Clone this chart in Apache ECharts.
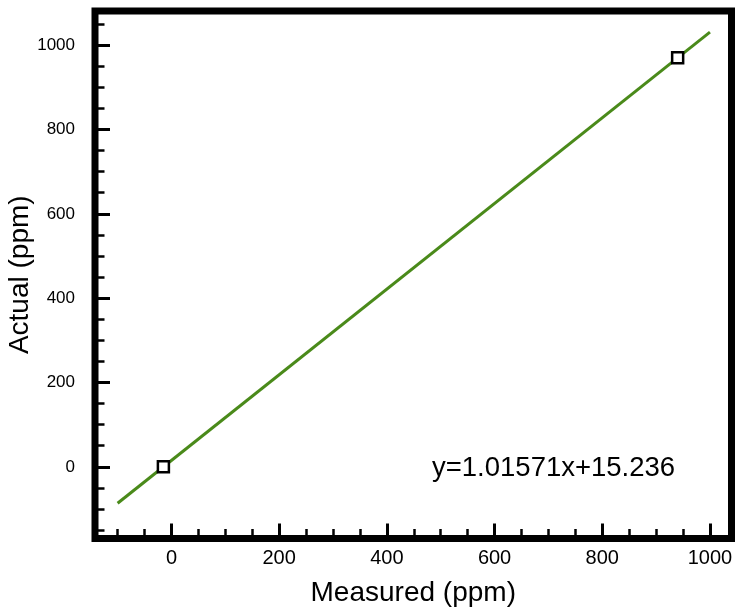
<!DOCTYPE html>
<html>
<head>
<meta charset="utf-8">
<script src="https://cdn.jsdelivr.net/npm/echarts@6/dist/echarts.min.js"></script>
<style>
html,body{margin:0;padding:0;background:#fff;}
#c{width:743px;height:616px;}
</style>
</head>
<body>
<div id="c"></div>
<script>
// Data
const measuredPoints = [-15, 940];
const actualPoints = [0, 970];
const fitLineX = [-100, 1000];
const fitLineY = [-86.3, 1030.9];
const xMajorTicks = [0, 200, 400, 600, 800, 1000];
const xMinorTicks = [-100, -50, 50, 100, 150, 250, 300, 350, 450, 500, 550, 650, 700, 750, 850, 900, 950];
const yMajorTicks = [0, 200, 400, 600, 800, 1000];
const yMinorTicks = [-150, -100, -50, 50, 100, 150, 250, 300, 350, 450, 500, 550, 650, 700, 750, 850, 900, 950, 1050];
const equationText = 'y=1.01571x+15.236';
const xName = 'Measured (ppm)';
const yName = 'Actual (ppm)';

const FONT = '"Liberation Sans", Arial, Helvetica, sans-serif';
const X_MIN = -142, X_MAX = 1040, Y_MIN = -170, Y_MAX = 1081;

const chart = echarts.init(document.getElementById('c'), null, {renderer: 'canvas'});

function xAxisDef(major) {
  return {
    type: 'value', min: X_MIN, max: X_MAX, position: 'bottom',
    name: major ? xName : '', nameLocation: 'middle', nameGap: 41,
    nameMoveOverlap: false,
    nameTextStyle: {fontFamily: FONT, fontSize: 28, color: '#000'},
    axisLine: {show: false, onZero: false},
    splitLine: {show: false},
    axisTick: {show: true, inside: true, length: major ? 15 : 9.5,
      customValues: major ? xMajorTicks : xMinorTicks,
      lineStyle: {color: '#000', width: major ? 3 : 2.5}},
    axisLabel: {show: major, customValues: xMajorTicks, margin: 10,
      formatter: v => String(v),
      fontFamily: FONT, fontSize: 20, color: '#000'}
  };
}
function yAxisDef(major) {
  return {
    type: 'value', min: Y_MIN, max: Y_MAX, position: 'left',
    name: major ? yName : '', nameLocation: 'middle', nameGap: 61,
    nameMoveOverlap: false,
    nameTextStyle: {fontFamily: FONT, fontSize: 28, color: '#000'},
    axisLine: {show: false, onZero: false},
    splitLine: {show: false},
    axisTick: {show: true, inside: true, length: major ? 15 : 9.5,
      customValues: major ? yMajorTicks : yMinorTicks,
      lineStyle: {color: '#000', width: major ? 3 : 2.5}},
    axisLabel: {show: major, customValues: yMajorTicks, margin: 20,
      formatter: v => String(v),
      fontFamily: FONT, fontSize: 17, color: '#000'}
  };
}

chart.setOption({
  backgroundColor: '#fff',
  animation: false,
  grid: {left: 95, right: 11.5, top: 11, bottom: 77.5, show: true,
    borderColor: '#000', borderWidth: 7, backgroundColor: 'transparent',
    containLabel: false, outerBoundsMode: 'none'},
  xAxis: [xAxisDef(true), xAxisDef(false)],
  yAxis: [yAxisDef(true), yAxisDef(false)],
  series: [
    {
      type: 'line', xAxisIndex: 0, yAxisIndex: 0,
      data: fitLineX.map((x, i) => [x, fitLineY[i]]),
      showSymbol: false, symbol: 'none',
      lineStyle: {color: '#4a8a1a', width: 3},
      z: 2
    },
    {
      type: 'scatter', xAxisIndex: 0, yAxisIndex: 0,
      data: measuredPoints.map((x, i) => [x, actualPoints[i]]),
      symbol: 'rect', symbolSize: 11,
      itemStyle: {color: '#fff', borderColor: '#000', borderWidth: 2.5, opacity: 1},
      z: 3
    }
  ],
  graphic: [
    {type: 'text', left: 432, top: 454,
      style: {text: equationText, fontFamily: FONT, fontSize: 27.5, fill: '#000'}}
  ]
});
</script>
</body>
</html>
